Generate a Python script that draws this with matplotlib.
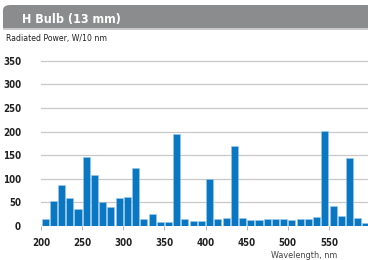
import matplotlib.pyplot as plt
from matplotlib.patches import FancyBboxPatch, Rectangle
import numpy as np

# data ------------------------------------------------------------------------
title = 'H Bulb (13 mm)'
ylabel = 'Radiated Power, W/10 nm'
xlabel = 'Wavelength, nm'

wavelength = np.arange(205, 600, 10)  # bin centers, 10 nm bins
power = [15, 52, 86, 60, 36, 146, 109, 51, 40, 60,
         62, 123, 14, 26, 8, 8, 194, 14, 11, 11,
         100, 14, 16, 169, 17, 13, 12, 14, 15, 15,
         13, 14, 15, 19, 201, 42, 21, 144, 16, 6]

xticks = [200, 250, 300, 350, 400, 450, 500, 550]
yticks = [0, 50, 100, 150, 200, 250, 300, 350]

# fonts -----------------------------------------------------------------------
plt.rcParams['font.family'] = ['DejaVu Sans']
plt.rcParams['font.stretch'] = 'condensed'

# figure ----------------------------------------------------------------------
W, H = 368, 260
fig = plt.figure(figsize=(W / 100, H / 100), dpi=100)
fig.patch.set_facecolor('white')

# header band
band = FancyBboxPatch((3 / W, (H - 28) / H), (W + 20) / W, 23 / H,
                      boxstyle='round,pad=0,rounding_size=0.02',
                      transform=fig.transFigure, facecolor='#8b8c8e',
                      edgecolor='none', zorder=0)
fig.patches.append(band)
fig.patches.append(Rectangle((3 / W, (H - 28) / H), 20 / W, 10 / H, transform=fig.transFigure,
                             facecolor='#8b8c8e', edgecolor='none', zorder=0))
fig.patches.append(Rectangle((3 / W, (H - 29.5) / H), 1, 1.5 / H, transform=fig.transFigure,
                             facecolor='#c9c9cb', edgecolor='none', zorder=0))
fig.text(22 / W, (H - 23) / H, title, color='white', fontsize=9,
         fontweight='bold', va='baseline', ha='left')
fig.text(6 / W, (H - 38) / H, ylabel, color='#222222', fontsize=6.2, va='center', ha='left')

# axes ------------------------------------------------------------------------
x0, x1 = 200.5, 597.5
ax = fig.add_axes([41 / W, 34 / H, (W - 41) / W, 166.2 / H])
ax.bar(wavelength, power, width=8.6, color='#0a77c2', edgecolor='#9cc9ea',
       linewidth=0.4, zorder=3)
ax.set_xlim(x0, x1)
ax.set_ylim(0, 352)
ax.set_yticks(yticks)
ax.set_xticks(xticks)
ax.grid(axis='y', color='#c8c8c8', linewidth=0.9, zorder=0)
for s in ax.spines.values():
    s.set_visible(False)
ax.tick_params(axis='y', length=0, pad=14.4, labelsize=7, labelcolor='#222222')
ax.tick_params(axis='x', length=3, width=0.6, color='#aaaaaa', pad=6,
               labelsize=7, labelcolor='#222222')
for lab in ax.get_xticklabels() + ax.get_yticklabels():
    lab.set_fontweight('bold')
fig.text(337 / W, (H - 256) / H, xlabel, color='#444444', fontsize=6.5,
         va='center', ha='right')

fig.savefig('out.png', dpi=100)
